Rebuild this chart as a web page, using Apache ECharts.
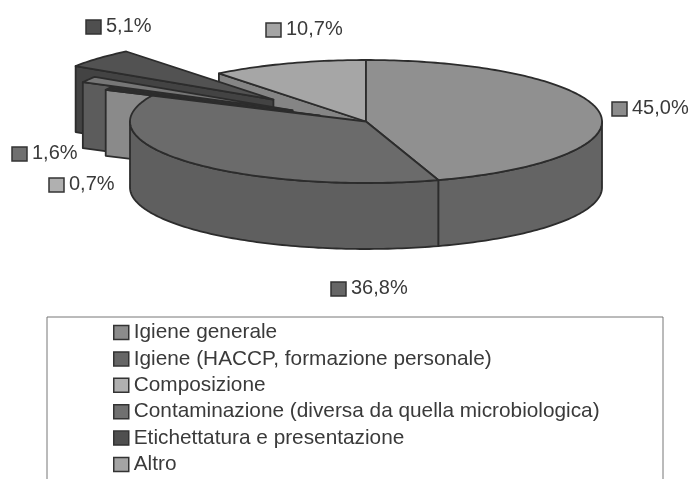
<!DOCTYPE html>
<html>
<head>
<meta charset="utf-8">
<script src="https://cdn.jsdelivr.net/npm/echarts@6/dist/echarts.min.js"></script>
<style>
  html, body { margin: 0; padding: 0; background: #fff; }
  #chart { width: 693px; height: 479px; }
</style>
</head>
<body>
<div id="chart"></div>
<script>
// legend order = order of the slices, clockwise from 12 o'clock
var categories = [
  'Igiene generale',
  'Igiene (HACCP, formazione personale)',
  'Composizione',
  'Contaminazione (diversa da quella microbiologica)',
  'Etichettatura e presentazione',
  'Altro'
];
var values = [45.0, 36.8, 0.7, 1.6, 5.1, 10.7];
var valueLabels = ['45,0%', '36,8%', '0,7%', '1,6%', '5,1%', '10,7%'];

// how far each slice is pulled out, as a share of the radius
var explode = [0, 0, 0.217, 0.36, 0.53, 0];

var topColors = ['#909090', '#6b6b6b', '#2e2e2e', '#767676', '#525252', '#a6a6a6'];
var sideColors = ['#646464', '#5f5f5f', '#8a8a8a', '#5c5c5c', '#434343', '#858585'];
var keyColors = ['#8c8c8c', '#666666', '#b0b0b0', '#707070', '#4f4f4f', '#a4a4a4'];

// marker box x,y of the value labels
var labelAt = [[612, 102], [331, 282], [49, 178], [12, 147], [86, 20], [266, 23]];

var cx = 366, cy = 121.5, rx = 236, ry = 61.5, depth = 66;
var line = '#2c2c2c';

var total = values.reduce(function (a, b) { return a + b; }, 0);

function startAngle(i) {
  var sum = 0;
  for (var k = 0; k < i; k++) sum += values[k];
  return sum / total * Math.PI * 2;
}

function sliceItem(i) {
  return function () {
    var a0 = startAngle(i);
    var a1 = a0 + values[i] / total * Math.PI * 2;
    var mid = (a0 + a1) / 2;
    var ax = cx + rx * explode[i] * Math.sin(mid);
    var ay = cy - ry * explode[i] * Math.cos(mid);
    var edge = function (a, dy) {
      return [ax + rx * Math.sin(a), ay - ry * Math.cos(a) + (dy || 0)];
    };
    var arc = function (from, to, dy) {
      var pts = [];
      var steps = Math.max(2, Math.ceil((to - from) / 0.02));
      for (var s = 0; s <= steps; s++) pts.push(edge(from + (to - from) * s / steps, dy));
      return pts;
    };
    var children = [];
    var stroke = { stroke: line, lineWidth: 1.8, lineJoin: 'round' };

    // cut face on the back left part of the pie
    if (a0 > Math.PI * 1.5) {
      var p = edge(a0);
      children.push({
        type: 'polygon',
        shape: { points: [[ax, ay], p, [p[0], p[1] + depth], [ax, ay + depth]] },
        style: Object.assign({ fill: sideColors[i] }, stroke)
      });
    }
    // outer wall, front half only
    var w0 = Math.max(a0, Math.PI / 2), w1 = Math.min(a1, Math.PI * 1.5);
    if (w1 > w0) {
      var wall = arc(w0, w1, 0).concat(arc(w0, w1, depth).reverse());
      children.push({
        type: 'polygon',
        shape: { points: wall },
        style: Object.assign({ fill: sideColors[i] }, stroke)
      });
    }
    // top face
    children.push({
      type: 'polygon',
      shape: { points: [[ax, ay]].concat(arc(a0, a1, 0)) },
      style: Object.assign({ fill: topColors[i] }, stroke)
    });
    // value label with its little square
    children.push({
      type: 'rect',
      shape: { x: labelAt[i][0], y: labelAt[i][1], width: 15, height: 14 },
      style: { fill: keyColors[i], stroke: '#333', lineWidth: 1.5 }
    });
    children.push({
      type: 'text',
      style: {
        x: labelAt[i][0] + 20, y: labelAt[i][1] + 6,
        text: valueLabels[i], fill: '#3a3a3a',
        font: '20px "Liberation Sans", Arial, sans-serif',
        verticalAlign: 'middle'
      }
    });
    return { type: 'group', children: children };
  };
}

var series = categories.map(function (name, i) {
  return {
    type: 'custom',
    name: name,
    coordinateSystem: 'none',
    silent: true,
    data: [values[i]],
    renderItem: sliceItem(i),
    // back to front
    z: [6, 7, 5, 4, 3, 2][i]
  };
});

var option = {
  animation: false,
  backgroundColor: '#fff',
  graphic: [{
    type: 'rect',
    shape: { x: 47, y: 317, width: 616, height: 180 },
    style: { fill: 'none', stroke: '#777', lineWidth: 1 }
  }],
  legend: {
    orient: 'vertical',
    left: 108,
    top: 316,
    height: 162,
    padding: 5,
    itemWidth: 15,
    itemHeight: 14,
    itemGap: 3.4,
    selectedMode: false,
    textStyle: {
      fontFamily: '"Liberation Sans", Arial, sans-serif',
      fontSize: 20.8,
      color: '#3a3a3a',
      lineHeight: 23
    },
    data: categories.map(function (name, i) {
      return {
        name: name,
        icon: 'rect',
        itemStyle: { color: keyColors[i], borderColor: '#333', borderWidth: 1.5 }
      };
    })
  },
  series: series
};

var myChart = echarts.init(document.getElementById('chart'));
myChart.setOption(option);
</script>
</body>
</html>
